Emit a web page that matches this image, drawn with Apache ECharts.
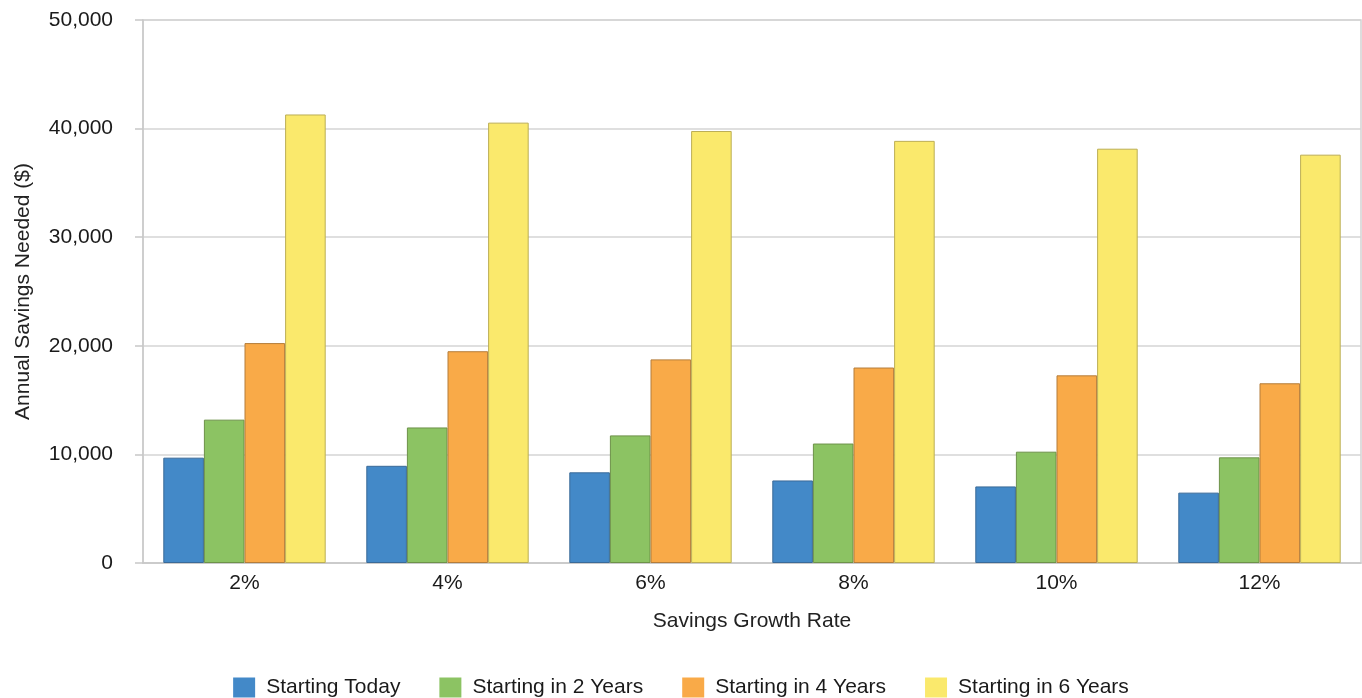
<!DOCTYPE html>
<html>
<head>
<meta charset="utf-8">
<style>
  html, body { margin: 0; padding: 0; background: #fff; }
  #chart { width: 1362px; height: 698px; }
</style>
<script src="https://cdn.jsdelivr.net/npm/echarts@6/dist/echarts.min.js"></script>
</head>
<body>
<div id="chart"></div>
<script>
// Growth-rate categories on the x axis
const rates = ['2%', '4%', '6%', '8%', '10%', '12%'];

// Annual savings needed ($) for each start date
const startingToday = [9700, 8950, 8350, 7600, 7050, 6480];
const startingIn2Years = [13200, 12480, 11750, 11000, 10250, 9730];
const startingIn4Years = [20250, 19500, 18750, 18000, 17280, 16550];
const startingIn6Years = [41300, 40550, 39780, 38870, 38150, 37600];

const seriesNames = ['Starting Today', 'Starting in 2 Years', 'Starting in 4 Years', 'Starting in 6 Years'];
const yTicks = [0, 10000, 20000, 30000, 40000, 50000];

const fills = ['#4389c8', '#8cc363', '#f9aa48', '#fae96c'];
const edges = ['#3a6a98', '#6d9249', '#b57d3a', '#bcae55'];
const values = [startingToday, startingIn2Years, startingIn4Years, startingIn6Years];

const font = '"Liberation Sans", Arial, sans-serif';

const chart = echarts.init(document.getElementById('chart'), null, { renderer: 'canvas' });

chart.setOption({
  backgroundColor: '#ffffff',
  animation: false,
  textStyle: { fontFamily: font },
  grid: {
    left: 143, right: 1, top: 20, bottom: 135,
    outerBoundsMode: 'none',
    containLabel: false,
    show: true, borderColor: '#d2d2d2', borderWidth: 1.5
  },
  legend: {
    data: seriesNames,
    left: 'center',
    top: 672,
    itemWidth: 22,
    itemHeight: 20,
    itemGap: 39,
    icon: 'rect',
    itemStyle: { borderWidth: 0 },
    textStyle: { fontSize: 21, color: '#1a1a1a', fontFamily: font, padding: [0, 0, 0, 6] }
  },
  xAxis: {
    type: 'category',
    data: rates,
    name: 'Savings Growth Rate',
    nameLocation: 'middle',
    nameGap: 48,
    nameTextStyle: { fontSize: 21, color: '#222', fontFamily: font },
    axisLine: { lineStyle: { color: '#c8c8c8', width: 1.5 } },
    axisTick: { alignWithLabel: true, length: 6, lineStyle: { color: '#b8c8dc' } },
    axisLabel: { fontSize: 21, color: '#1a1a1a', margin: 10, fontFamily: font }
  },
  yAxis: {
    type: 'value',
    min: yTicks[0],
    max: yTicks[yTicks.length - 1],
    interval: yTicks[1] - yTicks[0],
    name: 'Annual Savings Needed ($)',
    nameLocation: 'middle',
    nameRotate: 90,
    nameGap: 109,
    nameTextStyle: { fontSize: 21, color: '#222', fontFamily: font },
    axisLine: { show: true, lineStyle: { color: '#c8c8c8', width: 1.5 } },
    axisTick: { show: true, length: 8, lineStyle: { color: '#c8c8c8', width: 1.5 } },
    splitLine: { lineStyle: { color: '#d4d4d4', width: 1.5 } },
    axisLabel: {
      fontSize: 21, color: '#1a1a1a', margin: 30, fontFamily: font,
      formatter: v => v.toLocaleString('en-US')
    }
  },
  series: seriesNames.map((name, i) => ({
    name,
    type: 'bar',
    data: values[i],
    barGap: '0%',
    barCategoryGap: '20%',
    itemStyle: { color: fills[i], borderColor: edges[i], borderWidth: 1 }
  }))
});
</script>
</body>
</html>
